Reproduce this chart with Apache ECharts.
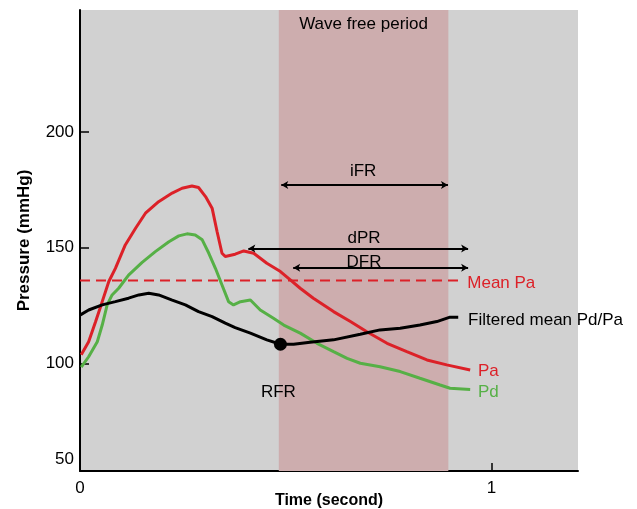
<!DOCTYPE html>
<html>
<head>
<meta charset="utf-8">
<script src="https://cdn.jsdelivr.net/npm/echarts@6/dist/echarts.min.js"></script>
<style>
html,body{margin:0;padding:0;background:#fff;}
#chart{width:637px;height:509px;}
</style>
</head>
<body>
<div id="chart"></div>
<script>
// ---- data ----
const paTime = [0.003,0.021,0.038,0.054,0.070,0.086,0.110,0.135,0.159,0.191,0.224,0.248,0.272,0.288,0.305,0.321,0.333,0.345,0.353,0.377,0.398,0.422,0.454,0.487,0.511,0.535,0.567,0.616,0.657,0.697,0.746,0.794,0.843,0.891,0.948];
const paValues = [103.8,109.4,118.1,126.7,135.4,141.1,151.2,158.4,164.9,169.9,173.6,175.7,176.7,176.0,172.1,167.1,157.0,147.6,146.2,147.2,148.6,147.6,143.3,139.7,136.1,132.5,128.2,122.4,118.1,113.7,108.7,105.1,101.5,99.4,97.2];

const pdTime = [0.003,0.021,0.042,0.054,0.066,0.078,0.094,0.118,0.151,0.183,0.216,0.240,0.260,0.280,0.297,0.313,0.329,0.345,0.361,0.373,0.390,0.414,0.438,0.470,0.495,0.535,0.576,0.616,0.649,0.681,0.729,0.778,0.826,0.875,0.899,0.948];
const pdValues = [98.4,102.9,109.4,116.6,125.3,129.6,132.5,138.2,143.7,148.3,152.6,155.1,156.0,155.5,153.4,147.6,141.1,133.9,126.7,125.3,126.7,127.4,123.1,119.5,116.6,113.1,108.7,105.1,102.2,100.1,98.6,96.5,93.6,90.7,89.3,88.8];

const filteredTime = [0.001,0.021,0.054,0.086,0.118,0.143,0.167,0.191,0.224,0.256,0.288,0.321,0.353,0.377,0.414,0.454,0.487,0.519,0.559,0.616,0.681,0.729,0.778,0.826,0.867,0.899,0.919];
const filteredValues = [121.0,123.1,125.3,126.7,128.2,129.6,130.3,129.6,127.4,125.3,122.4,120.2,117.4,115.5,113.1,110.2,108.3,108.3,109.2,110.2,112.6,114.5,115.2,116.6,118.1,120.0,120.0];

const meanPa = 135.8;
const meanPaEnd = 0.923;
const rfrPoint = [0.487, 108.3];
const waveFreePeriod = [0.483, 0.895];

// arrows: name, start time, end time, pressure
const arrowNames = ['iFR', 'dPR', 'DFR'];
const arrowStart = [0.489, 0.409, 0.518];
const arrowEnd = [0.894, 0.943, 0.943];
const arrowLevel = [177.1, 149.7, 141.3];

const xTickValues = [0, 1];
const xTickLabels = ['0', '1'];
const yTickValues = [100, 150, 200];
const yTickLabels = ['100', '150', '200'];
const yBottomLabel = '50';

// text annotations: text, time, pressure
const annText = ['Wave free period', 'iFR', 'dPR', 'DFR', 'Mean Pa', 'Filtered mean Pd/Pa', 'Pa', 'Pd', 'RFR'];
const annTime = [0.689, 0.688, 0.690, 0.690, 0.941, 0.943, 0.967, 0.967, 0.482];
const annValue = [246.7, 182.8, 154.2, 143.9, 134.8, 118.8, 96.8, 87.4, 87.4];

// ---- styles ----
const RED = '#dc2128';
const GREEN = '#56b046';
const BLACK = '#000000';
const TEXT = '#000000';
const FONT = 'Liberation Sans, Arial, Helvetica, sans-serif';
const annColor = [TEXT, TEXT, TEXT, TEXT, RED, TEXT, RED, GREEN, TEXT];
const annAlign = ['center', 'center', 'center', 'center', 'left', 'left', 'left', 'left', 'center'];

const zip = (a, b) => a.map((v, i) => [v, b[i]]);

const chart = echarts.init(document.getElementById('chart'), null, {renderer: 'canvas'});

const arrowLines = arrowNames.map((n, i) => [
  {coord: [arrowStart[i], arrowLevel[i]]},
  {coord: [arrowEnd[i], arrowLevel[i]]}
]);

const annData = annText.map((t, i) => ({
  value: [annTime[i], annValue[i]],
  name: t,
  label: {color: annColor[i], align: annAlign[i]}
}));

const option = {
  animation: false,
  backgroundColor: '#ffffff',
  grid: {
    left: 80, right: 59, top: 10, bottom: 38,
    containLabel: false,
    outerBoundsMode: 'none',
    show: true, backgroundColor: '#d1d1d1', borderWidth: 0
  },
  xAxis: {
    type: 'value',
    min: 0, max: 1.21,
    name: 'Time (second)',
    nameLocation: 'middle',
    nameGap: 22,
    nameMoveOverlap: false,
    nameTextStyle: {fontFamily: FONT, fontSize: 16, fontWeight: 'bold', color: TEXT},
    axisLine: {show: true, onZero: false, lineStyle: {color: '#000', width: 2}},
    axisTick: {show: true, inside: true, length: 8, customValues: [xTickValues[1]], lineStyle: {color: '#000', width: 1.5}},
    axisLabel: {
      customValues: xTickValues,
      formatter: v => xTickLabels[xTickValues.indexOf(v)] ?? '',
      fontFamily: FONT, fontSize: 17, color: TEXT, margin: 9
    },
    splitLine: {show: false}
  },
  yAxis: {
    type: 'value',
    min: 53.54, max: 252.7,
    name: 'Pressure (mmHg)',
    nameLocation: 'middle',
    nameGap: 47,
    nameMoveOverlap: false,
    nameTextStyle: {fontFamily: FONT, fontSize: 17, fontWeight: 'bold', color: TEXT},
    axisLine: {show: true, onZero: false, lineStyle: {color: '#000', width: 2}},
    axisTick: {show: true, inside: true, length: 9, customValues: yTickValues, lineStyle: {color: '#000', width: 1.5}},
    axisLabel: {
      customValues: yTickValues,
      formatter: v => yTickLabels[yTickValues.indexOf(v)] ?? '',
      fontFamily: FONT, fontSize: 17, color: TEXT, margin: 6
    },
    splitLine: {show: false}
  },
  graphic: [{
    type: 'text',
    silent: true,
    style: {
      text: yBottomLabel, x: 74, y: 459,
      textAlign: 'right', textVerticalAlign: 'middle',
      font: '17px ' + FONT, fill: TEXT
    }
  }],
  series: [
    {
      name: 'Wave free period',
      type: 'line',
      data: [],
      silent: true,
      markArea: {
        silent: true,
        itemStyle: {color: '#cdadae', opacity: 1},
        label: {show: false},
        data: [[{xAxis: waveFreePeriod[0]}, {xAxis: waveFreePeriod[1]}]]
      }
    },
    {
      name: 'Mean Pa',
      type: 'line',
      data: [[0, meanPa], [meanPaEnd, meanPa]],
      symbol: 'none',
      silent: true,
      lineStyle: {color: RED, width: 2, type: [10, 6]},
      z: 3
    },
    {
      name: 'Pa',
      type: 'line',
      data: zip(paTime, paValues),
      symbol: 'none',
      silent: true,
      lineStyle: {color: RED, width: 3},
      z: 4
    },
    {
      name: 'Pd',
      type: 'line',
      data: zip(pdTime, pdValues),
      symbol: 'none',
      silent: true,
      lineStyle: {color: GREEN, width: 3},
      z: 4
    },
    {
      name: 'Filtered mean Pd/Pa',
      type: 'line',
      data: zip(filteredTime, filteredValues),
      symbol: 'none',
      silent: true,
      lineStyle: {color: BLACK, width: 3},
      z: 5,
      markLine: {
        silent: true,
        symbol: ['arrow', 'arrow'],
        symbolSize: [6, 7],
        label: {show: false},
        lineStyle: {color: '#000', width: 1.8, type: 'solid'},
        emphasis: {disabled: true},
        data: arrowLines
      }
    },
    {
      name: 'RFR',
      type: 'scatter',
      data: [rfrPoint],
      symbol: 'circle',
      symbolSize: 13,
      silent: true,
      itemStyle: {color: BLACK, opacity: 1},
      z: 6
    },
    {
      name: 'labels',
      type: 'scatter',
      data: annData,
      symbolSize: 0,
      silent: true,
      z: 7,
      itemStyle: {opacity: 1},
      label: {
        show: true,
        position: 'inside',
        formatter: p => p.name,
        fontFamily: FONT,
        fontSize: 17,
        verticalAlign: 'middle',
        textBorderWidth: 0,
        opacity: 1
      }
    }
  ]
};

chart.setOption(option);
</script>
</body>
</html>
